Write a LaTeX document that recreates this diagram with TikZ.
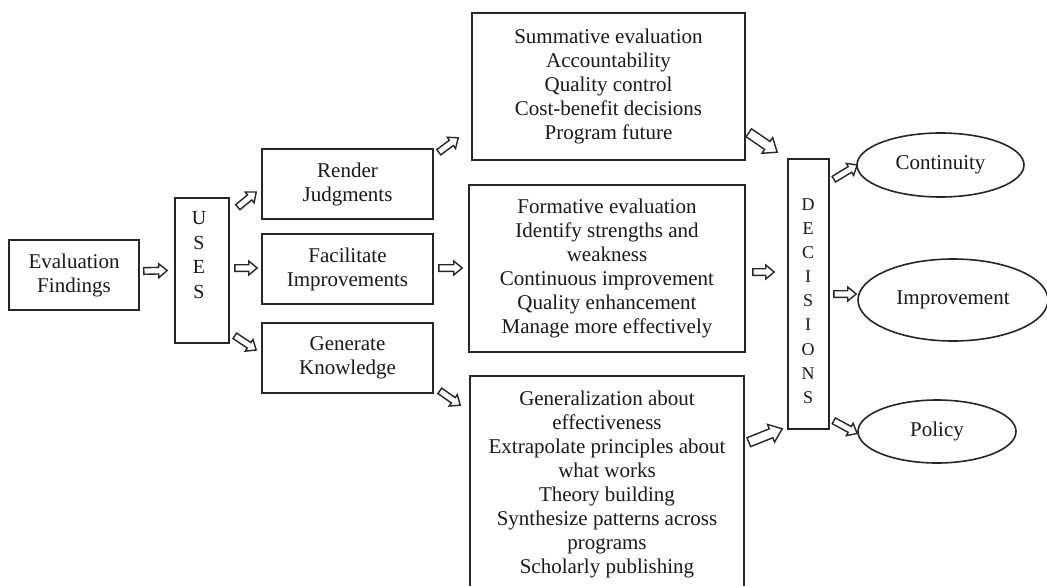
\documentclass[tikz,border=0pt]{standalone}
\usepackage{fontspec}
\setmainfont{Liberation Serif}
\usetikzlibrary{calc,shapes.geometric}
\newcommand\mainfs{\fontsize{21}{24}\selectfont}
\tikzset{
  barr w/.store in=\barrw, barr h/.store in=\barrh, barr l/.store in=\barrl,
  barr w=3.3pt, barr h=7pt, barr l=8.5pt,
  blockarr/.style={draw=black!85, line width=1.4pt, fill=white, line join=miter},
  bigarr/.style={barr w=4.8pt, barr h=9.5pt, barr l=12pt},
  box/.style={draw=black!85, line width=1.6pt, align=center, inner sep=0pt, font=\mainfs, text=black!90},
  ell/.style={ellipse, draw=black!85, line width=1.6pt, inner sep=0pt, font=\mainfs, text=black!90},
  letters/.style={align=center, inner sep=0pt, text=black!90},
}
\newcommand\barr[3][]{%
  \draw[blockarr,#1] let \p1=(#2), \p2=(#3),
    \n1={atan2(\y2-\y1,\x2-\x1)}, \n2={veclen(\x2-\x1,\y2-\y1)-\barrl} in
    ($(\p1)+({\n1+90}:\barrw)$) -- ($(\p1)+({\n1}:\n2)+({\n1+90}:\barrw)$)
    -- ($(\p1)+({\n1}:\n2)+({\n1+90}:\barrh)$) -- (\p2)
    -- ($(\p1)+({\n1}:\n2)+({\n1-90}:\barrh)$) -- ($(\p1)+({\n1}:\n2)+({\n1-90}:\barrw)$)
    -- ($(\p1)+({\n1-90}:\barrw)$) -- cycle;}
\begin{document}
\begin{tikzpicture}[x=1pt,y=-1pt]
\useasboundingbox (0,0) rectangle (1047,586);
\fill[white] (0,0) rectangle (1047,586);
% boxes
\node[box, minimum width=130pt, minimum height=70pt] (ef) at (74,275) {Evaluation\\Findings};
\node[box, minimum width=54pt, minimum height=145pt] (uses) at (202,270.5) {};
\node[letters, font=\fontsize{20}{24.5}\selectfont] (usest) at (199,255) {U\\S\\E\\S};
\node[box, minimum width=171pt, minimum height=70pt] (rj) at (347.5,184) {Render\\Judgments};
\node[box, minimum width=171pt, minimum height=70pt] (fi) at (347.5,269) {Facilitate\\Improvements};
\node[box, minimum width=171pt, minimum height=70pt] (gk) at (347.5,358) {Generate\\Knowledge};
\node[box, minimum width=273pt, minimum height=147pt] (sum) at (608.5,86.5) {Summative evaluation\\Accountability\\Quality control\\Cost-benefit decisions\\Program future};
\node[box, minimum width=276pt, minimum height=167pt] (form) at (607,268.5) {Formative evaluation\\Identify strengths and\\weakness\\Continuous improvement\\Quality enhancement\\Manage more effectively};
\node[box, minimum width=274pt, minimum height=216pt] (gen) at (607,484) {Generalization about\\effectiveness\\Extrapolate principles about\\what works\\Theory building\\Synthesize patterns across\\programs\\Scholarly publishing};
\node[box, minimum width=41pt, minimum height=270pt] (dec) at (808.5,294) {};
\node[letters, font=\fontsize{18}{24.1}\selectfont] (dect) at (808,301) {D\\E\\C\\I\\S\\I\\O\\N\\S};
\node[ell, minimum width=167pt, minimum height=64pt] (cont) at (940.5,165) {Continuity};
\node[ell, minimum width=190pt, minimum height=82pt] (impr) at (953,300) {Improvement};
\node[ell, minimum width=158pt, minimum height=63pt] (pol) at (937,431.5) {Policy};
% connectors
\barr{[shift={(4,-4)}]ef.east}{[shift={(-7,0)}]uses.west}
\barr{[shift={(8,10)}]uses.north east}{[shift={(-5,8)}]rj.west}
\barr{[shift={(5,-2.5)}]uses.east}{[shift={(-4,-1)}]fi.west}
\barr{[shift={(5,-8)}]uses.south east}{[shift={(-5,-8)}]gk.west}
\barr{[shift={(5,4)}]rj.north east}{[shift={(-13,-23)}]sum.south west}
\barr{[shift={(5,-1)}]fi.east}{[shift={(-6,-0.5)}]form.west}
\barr{[shift={(6,-3)}]gk.south east}{[shift={(-9,30)}]gen.north west}
\barr[bigarr]{[shift={(3,-28)}]sum.south east}{[shift={(-10,-6)}]dec.north west}
\barr{[shift={(7,3.5)}]form.east}{[shift={(-13,-22)}]dec.west}
\barr[bigarr]{[shift={(4,67)}]gen.north east}{[shift={(-5,-1)}]dec.south west}
\barr{[shift={(4,21)}]dec.north east}{[shift={(1,0)}]cont.west}
\barr{[shift={(4,0)}]dec.east}{[shift={(-1,-6)}]impr.west}
\barr{[shift={(4,-9)}]dec.south east}{[shift={(0,2)}]pol.west}
\end{tikzpicture}
\end{document}
